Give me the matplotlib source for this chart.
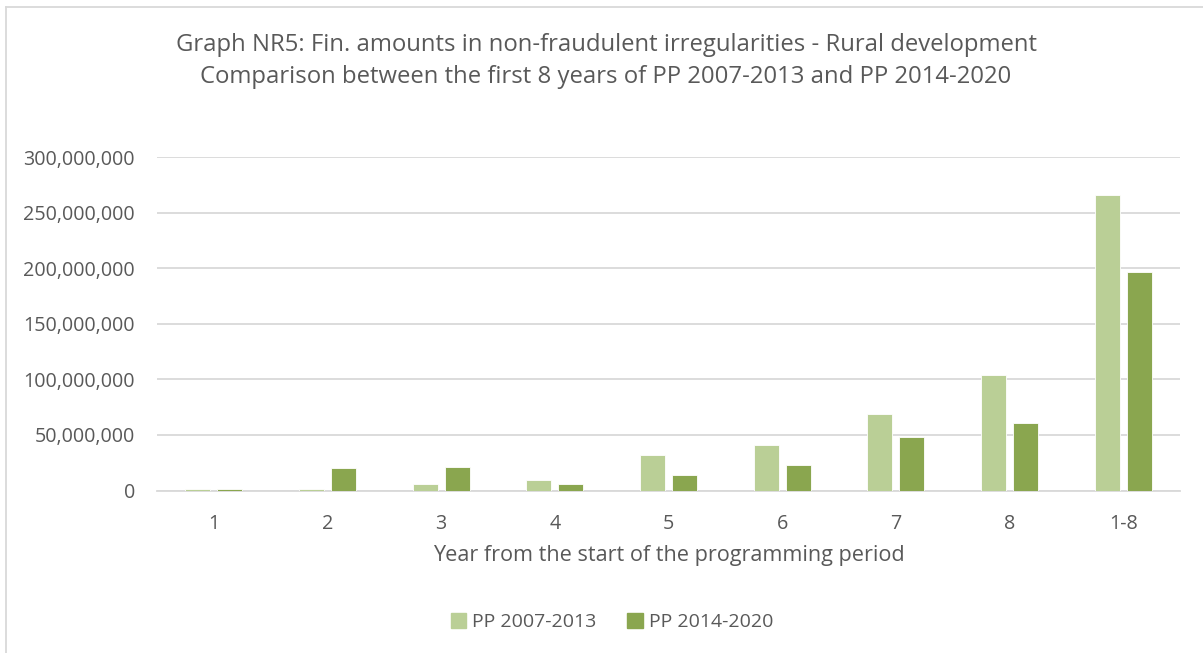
import matplotlib.pyplot as plt
import numpy as np
from matplotlib.lines import Line2D
from matplotlib.ticker import FuncFormatter

# Data
categories = ['1', '2', '3', '4', '5', '6', '7', '8', '1-8']
pp2007 = [1.0e6, 1.0e6, 5.5e6, 9.0e6, 31.8e6, 40.5e6, 69.0e6, 103.8e6, 265.5e6]
pp2014 = [1.2e6, 20.2e6, 21.4e6, 6.0e6, 13.8e6, 22.8e6, 48.0e6, 60.3e6, 196.8e6]
seriesLabels = ['PP 2007-2013', 'PP 2014-2020']
titleText = ('Graph NR5: Fin. amounts in non-fraudulent irregularities - Rural development\n'
             'Comparison between the first 8 years of PP 2007-2013 and PP 2014-2020')

lightGreen = '#bacf96'
darkGreen = '#8aa64f'
textGrey = '#595959'
gridGrey = '#d9d9d9'

plt.rcParams['font.family'] = ['Open Sans', 'DejaVu Sans']

fig = plt.figure(figsize=[12.03, 6.53], dpi=100)
ax = fig.add_axes([157/1203, 1-490.5/653, (1180-157)/1203, (490.5-157)/653])

index = np.arange(len(categories))
barW = 0.22
offset = 0.141
ax.bar(index - offset, pp2007, width=barW, color=lightGreen, edgecolor='white',
       linewidth=0.6, label=seriesLabels[0], zorder=3)
ax.bar(index + offset, pp2014, width=barW, color=darkGreen, edgecolor='white',
       linewidth=0.6, label=seriesLabels[1], zorder=3)

ax.set_xlim(-0.5, len(categories) - 0.5)
ax.set_ylim(0, 300e6)
ax.set_yticks(np.arange(0, 300e6 + 1, 50e6))
ax.yaxis.set_major_formatter(FuncFormatter(lambda v, p: f'{int(v):,}'))
ax.set_xticks(index)
ax.set_xticklabels(categories)
ax.grid(axis='y', color=gridGrey, linewidth=1.3, zorder=0)
ax.tick_params(axis='both', length=0, labelsize=14.2, colors=textGrey)
ax.tick_params(axis='y', pad=16)
ax.tick_params(axis='x', pad=17)
for s in ['top', 'right', 'left']:
    ax.spines[s].set_visible(False)
ax.spines['bottom'].set_color(gridGrey)
ax.spines['bottom'].set_linewidth(1.3)

ax.set_xlabel('Year from the start of the programming period', fontsize=15.6,
              color=textGrey, labelpad=8)

fig.text(606/1203, 1-61/653, titleText, ha='center', va='center', fontsize=17.2,
         color=textGrey, linespacing=1.4)

handles = [plt.Rectangle((0, 0), 1, 1, color=lightGreen),
           plt.Rectangle((0, 0), 1, 1, color=darkGreen)]
fig.legend(handles, seriesLabels, loc='center', bbox_to_anchor=(612/1203, 1-622/653),
           ncol=2, frameon=False, fontsize=14, labelcolor=textGrey,
           handlelength=0.8, handleheight=0.8, handletextpad=0.3, columnspacing=1.6)

# chart border (only left and top visible in the crop)
fig.add_artist(Line2D([6/1203, 6/1203], [0, 1-7/653], transform=fig.transFigure,
                      color=gridGrey, linewidth=1.3))
fig.add_artist(Line2D([6/1203, 1], [1-7/653, 1-7/653], transform=fig.transFigure,
                      color=gridGrey, linewidth=1.3))

plt.savefig('out.png', dpi=100)
